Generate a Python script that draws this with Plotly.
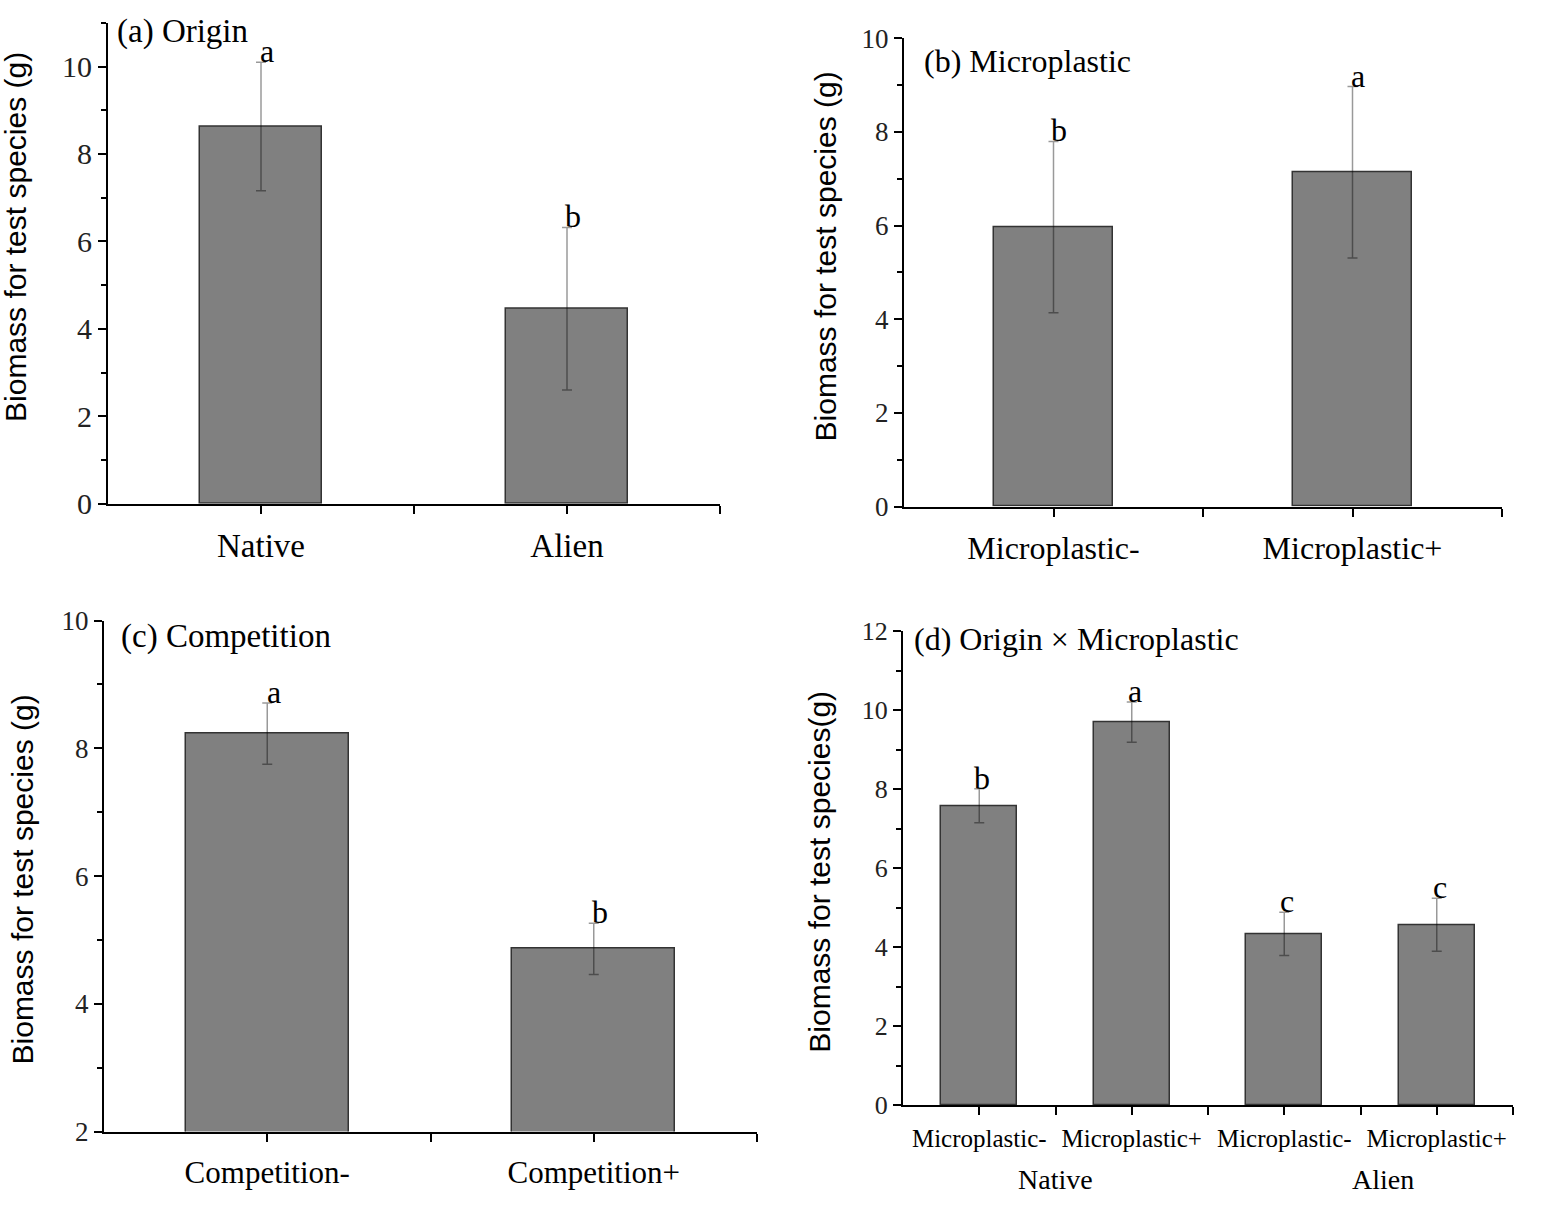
import plotly.graph_objects as go

W, H = 1559, 1208

# (a) Origin
a_cats = ["Native", "Alien"]
a_mean = [8.63, 4.46]
a_se = [1.47, 1.86]
a_letters = ["a", "b"]

# (b) Microplastic
b_cats = ["Microplastic-", "Microplastic+"]
b_mean = [5.97, 7.14]
b_se = [1.83, 1.83]
b_letters = ["b", "a"]

# (c) Competition
c_cats = ["Competition-", "Competition+"]
c_mean = [8.23, 4.86]
c_se = [0.48, 0.40]
c_letters = ["a", "b"]

# (d) Origin x Microplastic
d_cats = ["Microplastic-", "Microplastic+", "Microplastic-", "Microplastic+"]
d_groups = ["Native", "Alien"]
d_mean = [7.58, 9.70, 4.34, 4.57]
d_se = [0.43, 0.51, 0.55, 0.67]
d_letters = ["b", "a", "c", "c"]

SERIF = "Liberation Serif"
SANS = "Liberation Sans"


def px_x(a, b):
    return [a / W, b / W]


def px_y(top, bottom):
    return [1 - bottom / H, 1 - top / H]


panels = [
    dict(cats=a_cats, mean=a_mean, se=a_se, letters=a_letters, width=0.4,
         xdom=px_x(108, 720), ydom=px_y(8, 502), yrange=[0, 11],
         title="(a) Origin", tsize=33, tpos=(115, 17),
         ytitle="Biomass for test species (g)", ypos=(16, 228),
         tickfont=30, catfont=33, standoff=4),
    dict(cats=b_cats, mean=b_mean, se=b_se, letters=b_letters, width=0.4,
         xdom=px_x(904, 1502), ydom=px_y(24, 505), yrange=[0, 10],
         title="(b) Microplastic", tsize=32, tpos=(922, 47),
         ytitle="Biomass for test species (g)", ypos=(825, 248),
         tickfont=27, catfont=32, standoff=4),
    dict(cats=c_cats, mean=c_mean, se=c_se, letters=c_letters, width=0.5,
         xdom=px_x(104, 757), ydom=px_y(622, 1147), yrange=[2, 10],
         title="(c) Competition", tsize=33, tpos=(119, 638),
         ytitle="Biomass for test species (g)", ypos=(22, 888),
         tickfont=27, catfont=31, standoff=4),
    dict(cats=d_cats, mean=d_mean, se=d_se, letters=d_letters, width=0.5,
         xdom=px_x(903, 1513), ydom=px_y(633, 1120), yrange=[0, 12],
         title="(d) Origin × Microplastic", tsize=32, tpos=(912, 641),
         ytitle="Biomass for test species(g)", ypos=(820, 880),
         tickfont=26, catfont=25, standoff=2),
]

fig = go.Figure()
annotations = []

for i, p in enumerate(panels):
    n = i + 1
    xa = "x" if n == 1 else f"x{n}"
    ya = "y" if n == 1 else f"y{n}"
    xs = list(range(len(p["cats"])))
    fig.add_trace(go.Bar(
        x=xs, y=p["mean"], width=p["width"], xaxis=xa, yaxis=ya,
        marker=dict(color="#808080", line=dict(color="#333333", width=1.5)),
        error_y=dict(type="data", array=p["se"], color="rgba(0,0,0,0.4)", thickness=1.5, width=5),
        showlegend=False, hoverinfo="skip",
    ))

    # x ticks at each category plus minor ticks in between
    tickvals, ticktext = [], []
    for k, c in enumerate(p["cats"]):
        tickvals += [k, k + 0.5]
        ticktext += [c, ""]
    axis_common = dict(showline=True, linecolor="black", linewidth=2, ticks="outside",
                       tickcolor="black", tickwidth=2, showgrid=False, zeroline=False)
    fig.layout[("xaxis" if n == 1 else f"xaxis{n}")] = dict(
        domain=p["xdom"], anchor=ya, range=[-0.5, len(xs) - 0.5],
        tickvals=tickvals, ticktext=ticktext, ticklen=8, tickangle=0,
        ticklabelstandoff=p["standoff"],
        tickfont=dict(family=SERIF, size=p["catfont"], color="black"), **axis_common)
    fig.layout[("yaxis" if n == 1 else f"yaxis{n}")] = dict(
        domain=p["ydom"], anchor=xa, range=p["yrange"], dtick=2, ticklen=8,
        minor=dict(dtick=1, ticks="outside", ticklen=5, tickcolor="black", tickwidth=2),
        tickfont=dict(family=SERIF, size=p["tickfont"], color="#222222"), **axis_common)

    # significance letters
    for k, lt in enumerate(p["letters"]):
        annotations.append(dict(x=k + 0.02, y=p["mean"][k] + p["se"][k], xref=xa, yref=ya,
                                text=lt, showarrow=False, yanchor="bottom", yshift=-9,
                                font=dict(family=SERIF, size=32, color="black")))
    # panel label
    annotations.append(dict(x=p["tpos"][0] / W, y=1 - p["tpos"][1] / H, xref="paper", yref="paper",
                            text=p["title"], showarrow=False, xanchor="left", yanchor="middle",
                            font=dict(family=SERIF, size=p["tsize"], color="black")))
    # y-axis title
    annotations.append(dict(x=p["ypos"][0] / W, y=1 - p["ypos"][1] / H, xref="paper", yref="paper",
                            text=p["ytitle"], showarrow=False, textangle=-90,
                            xanchor="center", yanchor="middle",
                            font=dict(family=SANS, size=30, color="black")))

# group labels under panel (d)
for g, gx in zip(d_groups, [0.5, 2.65]):
    annotations.append(dict(x=gx, y=0, xref="x4", yref="paper", text=g,
                            showarrow=False, yanchor="bottom", yshift=-6,
                            font=dict(family=SERIF, size=28, color="black")))

fig.update_layout(width=W, height=H, margin=dict(l=0, r=0, t=0, b=0),
                  paper_bgcolor="white", plot_bgcolor="white",
                  annotations=annotations, bargap=0)

fig.write_html("out.html", config={"displayModeBar": False},
               post_script="document.body.style.margin='0';")
